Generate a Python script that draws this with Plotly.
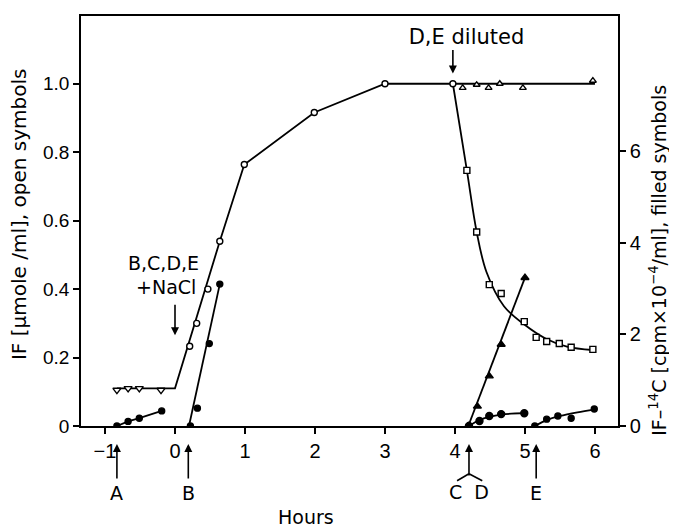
import plotly.graph_objects as go

# ---------------- data (hours; left axis = IF umole/ml; right axis = cpm x 10^-4/ml)
# open inverted triangles (before NaCl)
pre_x = [-0.83, -0.67, -0.51, -0.2]
pre_y = [0.105, 0.11, 0.11, 0.105]
# open circles (after NaCl)
oc_x = [0.21, 0.31, 0.47, 0.64, 0.99, 1.99, 3.0, 3.97]
oc_y = [0.233, 0.30, 0.40, 0.54, 0.764, 0.916, 1.0, 1.0]
# fitted line through open symbols
fit_open_x = [-0.83, 0.0, 0.64, 0.99, 1.99, 3.0, 3.97]
fit_open_y = [0.11, 0.11, 0.54, 0.764, 0.916, 1.0, 1.0]
# open triangles (undiluted continuation)
ot_x = [4.11, 4.31, 4.48, 4.64, 4.97, 5.97]
ot_y = [0.988, 0.997, 0.988, 1.0, 0.988, 1.009]
fit_ot_x = [3.97, 6.0]
fit_ot_y = [1.0, 1.0]
# open squares (diluted)
sq_x = [4.17, 4.31, 4.49, 4.66, 4.99, 5.16, 5.31, 5.49, 5.66, 5.97]
sq_y = [0.747, 0.567, 0.413, 0.387, 0.305, 0.259, 0.247, 0.241, 0.23, 0.224]
fit_sq_x = [3.97, 4.17, 4.31, 4.45, 4.7, 5.0, 5.3, 5.6, 5.97]
fit_sq_y = [1.0, 0.747, 0.567, 0.45, 0.35, 0.295, 0.255, 0.232, 0.222]

# filled circles A
fa_x = [-0.83, -0.67, -0.51, -0.19]
fa_y = [0.0, 0.10, 0.17, 0.33]
# filled circles B
fb_x = [0.22, 0.32, 0.49, 0.64]
fb_y = [0.0, 0.39, 1.8, 3.1]
fit_fb_x = [0.2, 0.64]
fit_fb_y = [0.0, 3.1]
# filled triangles C
fc_x = [4.19, 4.32, 4.49, 4.66, 5.0]
fc_y = [0.0, 0.43, 1.09, 1.78, 3.24]
fit_fc_x = [4.19, 5.0]
fit_fc_y = [0.0, 3.24]
# filled circles D
fd_x = [4.2, 4.35, 4.49, 4.66, 4.99]
fd_y = [0.0, 0.11, 0.22, 0.26, 0.28]
fit_fd_x = [4.2, 4.35, 4.49, 4.66, 4.99]
fit_fd_y = [0.0, 0.13, 0.2, 0.25, 0.28]
# filled circles E
fe_x = [5.14, 5.31, 5.47, 5.66, 5.99]
fe_y = [0.0, 0.15, 0.22, 0.17, 0.37]
fit_fe_x = [5.14, 5.31, 5.5, 5.75, 5.99]
fit_fe_y = [0.0, 0.13, 0.22, 0.3, 0.36]

x_ticks = [-1, 0, 1, 2, 3, 4, 5, 6]
x_ticktext = ["\u22121", "0", "1", "2", "3", "4", "5", "6"]
yl_ticks = [0, 0.2, 0.4, 0.6, 0.8, 1.0]
yl_ticktext = ["0", "0.2", "0.4", "0.6", "0.8", "1.0"]
yr_ticks = [0, 2, 4, 6]

# bottom arrow labels: (label, hour)
arrow_marks = [("A", -0.83), ("B", 0.19), ("E", 5.16)]
cd_hour = 4.2

TXT = "DejaVu Sans"
NUM = "Liberation Sans"
LW = 1.8
NB = "\u00a0"

# page has an 8px body margin; plot area: 537 x 412 px
PW, PH = 537.0, 412.0

fig = go.Figure()

def line(x, y, yaxis="y", shape="linear"):
    fig.add_trace(go.Scatter(x=x, y=y, mode="lines", yaxis=yaxis,
                             line=dict(color="black", width=LW, shape=shape, smoothing=1.0),
                             hoverinfo="skip", showlegend=False))

def marks(x, y, symbol, filled, size, yaxis="y"):
    fig.add_trace(go.Scatter(x=x, y=y, mode="markers", yaxis=yaxis,
                             marker=dict(symbol=symbol, size=size,
                                         color="black" if filled else "white",
                                         line=dict(color="black", width=1.4)),
                             showlegend=False))

# fitted lines
line(fit_open_x, fit_open_y)
line(fit_ot_x, fit_ot_y)
line(fit_sq_x, fit_sq_y, shape="spline")
line(fa_x, fa_y, yaxis="y2")
line(fit_fb_x, fit_fb_y, yaxis="y2")
line(fit_fc_x, fit_fc_y, yaxis="y2")
line(fit_fd_x, fit_fd_y, yaxis="y2", shape="spline")
line(fit_fe_x, fit_fe_y, yaxis="y2", shape="spline")

# markers
marks(pre_x, pre_y, "triangle-down", False, 7)
marks(oc_x, oc_y, "circle", False, 6)
marks(ot_x, ot_y, "triangle-up", False, 6)
marks(sq_x, sq_y, "square", False, 6)
marks(fa_x, fa_y, "circle", True, 6, "y2")
marks(fb_x, fb_y, "circle", True, 6, "y2")
marks(fc_x, fc_y, "triangle-up", True, 7, "y2")
marks(fd_x, fd_y, "circle", True, 7, "y2")
marks(fe_x, fe_y, "circle", True, 6, "y2")

ann = []
def text(x, y, s, xref="x", yref="y", size=19, angle=0):
    ann.append(dict(x=x, y=y, xref=xref, yref=yref, text=s, showarrow=False,
                    xanchor="center", yanchor="middle", textangle=angle,
                    font=dict(family=TXT, size=size, color="black")))

def labelled_arrow(x, y, ay, s, pad, xref="x", yref="y", size=19):
    # arrow tip at (x, y); label centred ay px below (+) / above (-) the tip
    ann.append(dict(x=x, y=y, xref=xref, yref=yref, ax=0, ay=ay, text=s, showarrow=True,
                    arrowhead=2, arrowsize=1, arrowwidth=1.6, arrowcolor="black",
                    borderpad=pad, font=dict(family=TXT, size=size, color="black")))

# text labels inside plot
text(-0.171, 0.477, "B,C,D,E")
labelled_arrow(0.0, 0.265, -48, "+NaCl" + NB * 3, 6)
labelled_arrow(3.97, 1.03, -37, NB * 4 + "D,E diluted", 1, size=21)

# bottom arrows with labels
tip_y = -18 / PH
for lab, h in arrow_marks:
    labelled_arrow(h, tip_y, 49, lab, 3, yref="paper")
# C/D forked arrow
labelled_arrow(cd_hour, tip_y, 48, "C" + NB * 2 + "D", 5, yref="paper")

# axis titles and Hours
text(-62 / PW, 212 / PH, "IF [\u00b5mole /ml], open symbols", xref="paper", yref="paper",
     size=20, angle=-90)
text(1 + 40 / PW, 166 / PH,
     "IF\u2013<sup>14</sup>C [cpm\u00d710<sup>\u22124</sup>/ml], filled symbols",
     xref="paper", yref="paper", size=19, angle=-90)
text(225 / PW, -91 / PH, "Hours", xref="paper", yref="paper", size=19)

j_y = -48 / PH
b_y = -55 / PH
shapes = [
    dict(type="line", xref="x", yref="paper", x0=cd_hour, y0=j_y, x1=cd_hour - 0.17, y1=b_y,
         line=dict(color="black", width=1.6)),
    dict(type="line", xref="x", yref="paper", x0=cd_hour, y0=j_y, x1=cd_hour + 0.19, y1=b_y,
         line=dict(color="black", width=1.6)),
]

fig.update_layout(
    width=669, height=520, autosize=False,
    margin=dict(l=73, r=59, t=6, b=102),
    paper_bgcolor="white", plot_bgcolor="white",
    showlegend=False,
    annotations=ann, shapes=shapes,
    xaxis=dict(range=[-1.343, 6.329], tickvals=x_ticks, ticktext=x_ticktext,
               showline=True, linecolor="black", linewidth=1.6, mirror=True,
               ticks="outside", ticklen=6, tickwidth=1.5, tickcolor="black",
               showgrid=False, zeroline=False,
               tickfont=dict(family=NUM, size=20, color="black")),
    yaxis=dict(range=[0, 1.198], tickvals=yl_ticks, ticktext=yl_ticktext,
               showline=True, linecolor="black", linewidth=1.6,
               ticks="outside", ticklen=6, tickwidth=1.5, tickcolor="black",
               showgrid=False, zeroline=False,
               tickfont=dict(family=NUM, size=19, color="black")),
    yaxis2=dict(range=[0, 8.957], tickvals=yr_ticks, overlaying="y", side="right",
                showline=True, linecolor="black", linewidth=1.6,
                ticks="outside", ticklen=6, tickwidth=1.5, tickcolor="black",
                showgrid=False, zeroline=False,
                tickfont=dict(family=NUM, size=20, color="black")),
)

fig.write_html("out.html")
